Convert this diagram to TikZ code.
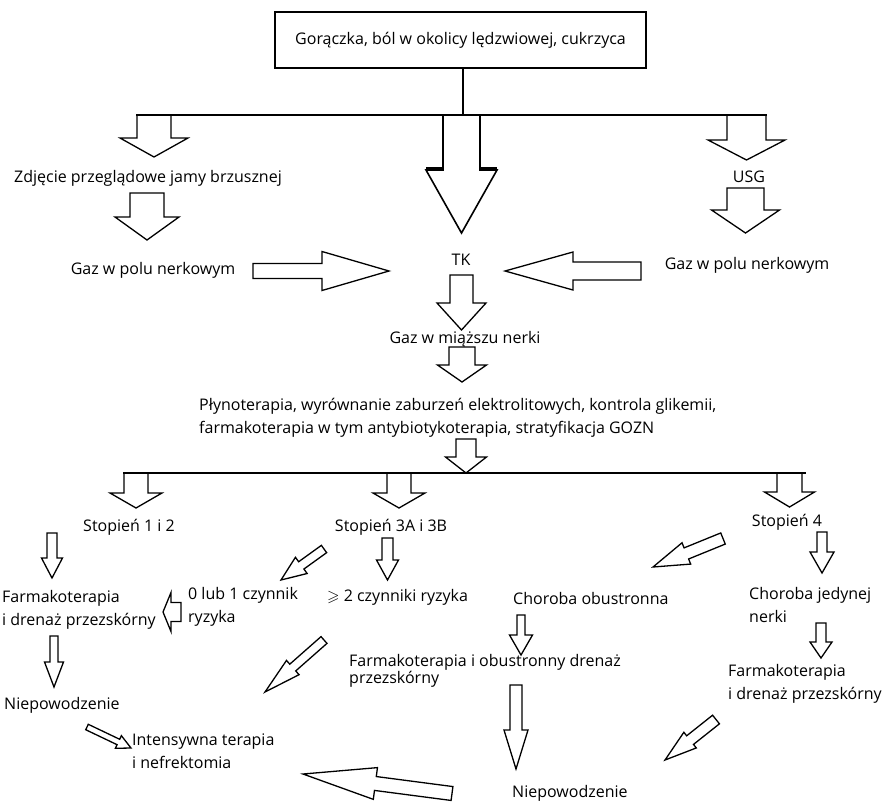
\documentclass[tikz,border=0pt]{standalone}
\usepackage{fontspec}
\setmainfont{Open Sans}
\usepackage{amssymb}
\usetikzlibrary{calc}
\tikzset{
 txt/.style={font=\fontsize{16}{23}\selectfont, inner sep=0pt},
 lt/.style={txt, anchor=west, align=left},
 barrow/.style={draw=black, line width=1.3pt, fill=white, line join=miter},
 bar/.style={line width=2.5pt},
}
% #2 tail, #3 tip, #4 shaft half width, #5 head half width, #6 head length
\newcommand{\blockarrow}[6][]{%
 \path ($(#3)!#6pt!(#2)$) coordinate (bbase);
 \draw[barrow,#1] ($(#2)!#4pt!90:(#3)$) -- ($(bbase)!#4pt!90:(#3)$) -- ($(bbase)!#5pt!90:(#3)$) -- (#3) -- ($(bbase)!#5pt!-90:(#3)$) -- ($(bbase)!#4pt!-90:(#3)$) -- ($(#2)!#4pt!-90:(#3)$) -- cycle;}
\begin{document}
\begin{tikzpicture}[x=1pt,y=-1pt]
\useasboundingbox (0,0) rectangle (882,803);
\fill[white] (0,0) rectangle (882,803);

% ---------- text nodes ----------
\node[txt, draw, line width=1.5pt, minimum width=371pt, minimum height=56pt] (top) at (460.5,40) {Gorączka, ból w okolicy lędzwiowej, cukrzyca};
\node[txt] (zdj) at (148,178) {Zdjęcie przeglądowe jamy brzusznej};
\node[txt] (usg) at (749,177) {USG};
\node[txt] (gazL) at (153,270) {Gaz w polu nerkowym};
\node[txt] (tk) at (461,260) {TK};
\node[txt] (gazR) at (747,265) {Gaz w polu nerkowym};
\node[txt] (gazM) at (465,339) {Gaz w miąższu nerki};
\node[lt] (ply) at (199,417.5) {Płynoterapia, wyrównanie zaburzeń elektrolitowych, kontrola glikemii,\\farmakoterapia w tym antybiotykoterapia, stratyfikacja GOZN};
\node[txt] (s12) at (129,527) {Stopień 1 i 2};
\node[txt] (s3) at (391,527) {Stopień 3A i 3B};
\node[txt] (s4) at (787,522) {Stopień 4};
\node[lt] (farmL) at (2,610) {Farmakoterapia\\i drenaż przezskórny};
\node[lt] (zero) at (188,606.5) {0 lub 1 czynnik\\ryzyka};
\node[lt] (dwa) at (327,597) {$\geqslant$ 2 czynniki ryzyka};
\node[lt] (obu) at (513,598) {Choroba obustronna};
\node[lt] (jed) at (749,604.5) {Choroba jedynej\\nerki};
\node[lt, font=\fontsize{16}{16}\selectfont] (farmM) at (349,671) {Farmakoterapia i obustronny drenaż\\przezskórny};
\node[lt] (niepL) at (4,705) {Niepowodzenie};
\node[lt] (int) at (132,751.5) {Intensywna terapia\\i nefrektomia};
\node[lt] (farmR) at (728,683.5) {Farmakoterapia\\i drenaż przezskórny};
\node[lt] (niepR) at (512,793) {Niepowodzenie};

% ---------- arrow end points ----------
\coordinate (a1t) at (154,115);   \coordinate (a1h) at (154,157);
\coordinate (a2t) at (461.5,115); \coordinate (a2h) at (461.5,233);
\coordinate (a3t) at (746.5,115); \coordinate (a3h) at (746.5,160);
\coordinate (a4t) at (147,193);   \coordinate (a4h) at (147,240);
\coordinate (a5t) at (745.5,188); \coordinate (a5h) at (745.5,233);
\coordinate (a6t) at (253,271);   \coordinate (a6h) at (389,271);
\coordinate (a7t) at (641,271);   \coordinate (a7h) at (505,271);
\coordinate (a8t) at (461.5,275); \coordinate (a8h) at (461.5,330);
\coordinate (a9t) at (462,347);   \coordinate (a9h) at (462,382);
\coordinate (a10t) at (466,439);  \coordinate (a10h) at (466,473);
\coordinate (a11t) at (136,473);  \coordinate (a11h) at (136,508);
\coordinate (a12t) at (399,473);  \coordinate (a12h) at (399,508);
\coordinate (a13t) at (789.5,473);\coordinate (a13h) at (789.5,507);
\coordinate (a14t) at (52,533);   \coordinate (a14h) at (52,578);
\coordinate (a15t) at (54,636);   \coordinate (a15h) at (54,687);
\coordinate (a16t) at (87,727);   \coordinate (a16h) at (131,748);
\coordinate (a17t) at (181,612);  \coordinate (a17h) at (163,612);
\coordinate (a18t) at (324,549);  \coordinate (a18h) at (281,580);
\coordinate (a19t) at (387.5,538);\coordinate (a19h) at (387.5,580);
\coordinate (a20t) at (324,640);  \coordinate (a20h) at (265,692);
\coordinate (a21t) at (452,793.5);\coordinate (a21h) at (303,774);
\coordinate (a22t) at (723,538.5);\coordinate (a22h) at (653,567);
\coordinate (a23t) at (822,532);  \coordinate (a23h) at (822,573);
\coordinate (a24t) at (821,623);  \coordinate (a24h) at (821,658);
\coordinate (a25t) at (716,719.5);\coordinate (a25h) at (665,760);
\coordinate (a26t) at (521,615);  \coordinate (a26h) at (521,655);
\coordinate (a27t) at (516,685);  \coordinate (a27h) at (516,769);

% ---------- block arrows ----------
\blockarrow{a1t}{a1h}{17}{34}{19}
\blockarrow[line width=1.6pt]{a2t}{a2h}{18.5}{35.5}{63}
\draw[line width=3.5pt] ($(a2h)+(-35.5,-64.5)$) -- ($(a2h)+(-18.5,-64.5)$);
\draw[line width=3.5pt] ($(a2h)+(18.5,-64.5)$) -- ($(a2h)+(35.5,-64.5)$);
\blockarrow{a3t}{a3h}{19.5}{38.5}{20}
\blockarrow{a4t}{a4h}{17}{32}{23}
\blockarrow{a5t}{a5h}{18.5}{34}{23}
\blockarrow{a6t}{a6h}{7.5}{19.5}{67}
\blockarrow{a7t}{a7h}{9}{19}{68}
\blockarrow{a8t}{a8h}{11.5}{24.5}{27}
\blockarrow{a9t}{a9h}{13}{24.5}{17}
\blockarrow{a10t}{a10h}{10}{20.5}{16}
\blockarrow{a11t}{a11h}{12}{26}{15}
\blockarrow{a12t}{a12h}{12}{26}{15}
\blockarrow{a13t}{a13h}{12.5}{25}{15}
\blockarrow{a14t}{a14h}{5}{10.5}{20}
\blockarrow{a15t}{a15h}{4}{9.5}{25}
\blockarrow{a16t}{a16h}{3}{7}{14}
\blockarrow{a17t}{a17h}{9.5}{19.5}{8}
\blockarrow{a18t}{a18h}{4.5}{10}{25}
\blockarrow{a19t}{a19h}{5.5}{11}{20}
\blockarrow{a20t}{a20h}{4.5}{9.5}{37}
\blockarrow{a21t}{a21h}{7}{16}{73}
\blockarrow{a22t}{a22h}{6}{11.5}{36}
\blockarrow{a23t}{a23h}{5}{12}{21}
\blockarrow{a24t}{a24h}{5}{11}{16}
\blockarrow{a25t}{a25h}{5.5}{10}{32}
\blockarrow{a26t}{a26h}{4}{11.5}{20}
\blockarrow{a27t}{a27h}{6}{12}{39}

% ---------- distribution lines ----------
\coordinate (j1) at (463,115);
\coordinate (l1a) at (136,115); \coordinate (l1b) at (767,115);
\coordinate (l2a) at (123,473); \coordinate (l2b) at (806,473);
\draw[line width=2pt] (top.south -| j1) -- (j1);
\draw[bar] (l1a) -- (l1b);
\draw[bar] (l2a) -- (l2b);
\end{tikzpicture}
\end{document}
